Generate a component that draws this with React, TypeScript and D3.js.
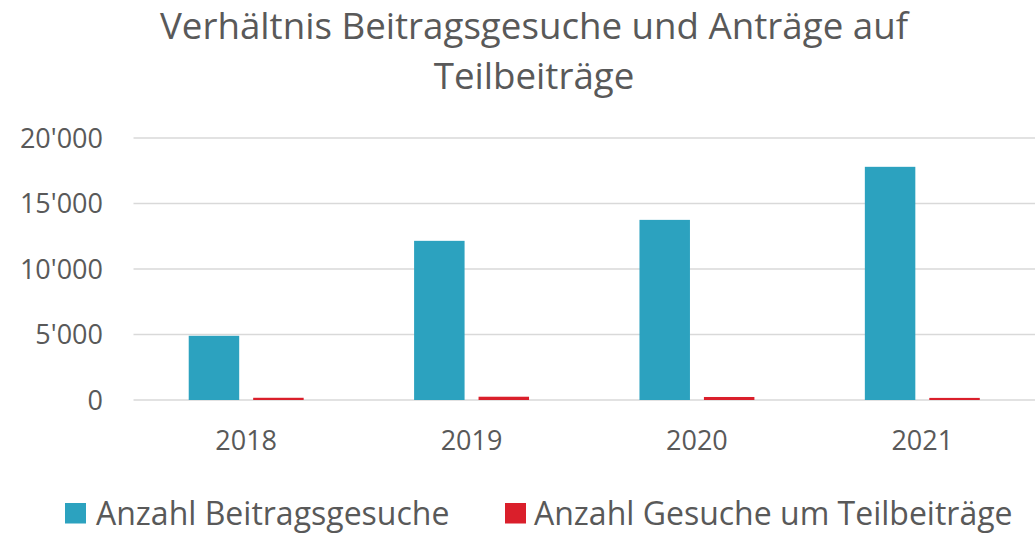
import React from "react";
import * as d3 from "d3";

const categories = ["2018", "2019", "2020", "2021"];
const beitragsgesuche = [4900, 12150, 13750, 17800];
const teilbeitraege = [170, 250, 230, 160];
const yTicks = [0, 5000, 10000, 15000, 20000];
const seriesNames = ["Anzahl Beitragsgesuche", "Anzahl Gesuche um Teilbeiträge"];
const seriesColors = ["#2CA2BF", "#DA1F2B"];

const W = 1036;
const H = 533;
const FONT = "'Open Sans', sans-serif";
const TXT = "#595959";

export default function App() {
  const left = 133.5, right = 1035, top = 138, bottom = 400;
  const x = d3.scaleBand<string>().domain(categories).range([left, right]).paddingInner(0).paddingOuter(0);
  const y = d3.scaleLinear().domain([0, 20000]).range([bottom, top]);
  const bw = x.bandwidth();
  const barW = bw * 0.224;
  const gap = bw * 0.062;
  const groupW = barW * 2 + gap;
  const off0 = (bw - groupW) / 2;
  const fmt = (v: number) => (v === 0 ? "0" : d3.format(",")(v).replace(/,/g, "'"));
  const series = [beitragsgesuche, teilbeitraege];

  return (
    <svg width={W} height={H} style={{ position: "absolute", left: 0, top: 0, background: "#fff" }}>
      <text x={534} y={39} textAnchor="middle" fontFamily={FONT} fontSize={36.7} fill={TXT}>
        Verhältnis Beitragsgesuche und Anträge auf
      </text>
      <text x={534} y={89} textAnchor="middle" fontFamily={FONT} fontSize={36.7} fill={TXT}>
        Teilbeiträge
      </text>
      {yTicks.map((t) => (
        <g key={t}>
          <line x1={left} x2={right} y1={y(t)} y2={y(t)} stroke="#D9D9D9" strokeWidth={1.5} />
          <text x={103} y={y(t) + 9.5} textAnchor="end" fontFamily={FONT} fontSize={27} fill={TXT}>
            {fmt(t)}
          </text>
        </g>
      ))}
      {categories.map((c, i) => (
        <g key={c}>
          {series.map((s, si) => (
            <rect
              key={si}
              x={(x(c) as number) + off0 + si * (barW + gap)}
              y={y(s[i])}
              width={barW}
              height={bottom - y(s[i])}
              fill={seriesColors[si]}
            />
          ))}
          <text
            x={(x(c) as number) + bw / 2}
            y={449.5}
            textAnchor="middle"
            fontFamily={FONT}
            fontSize={27}
            fill={TXT}
          >
            {c}
          </text>
        </g>
      ))}
      <g>
        <rect x={65} y={503} width={21} height={20.5} fill={seriesColors[0]} />
        <text x={96} y={524.5} fontFamily={FONT} fontSize={32} fill={TXT}>
          {seriesNames[0]}
        </text>
        <rect x={505} y={503} width={21} height={20.5} fill={seriesColors[1]} />
        <text x={534} y={524.5} fontFamily={FONT} fontSize={32} fill={TXT}>
          {seriesNames[1]}
        </text>
      </g>
    </svg>
  );
}
